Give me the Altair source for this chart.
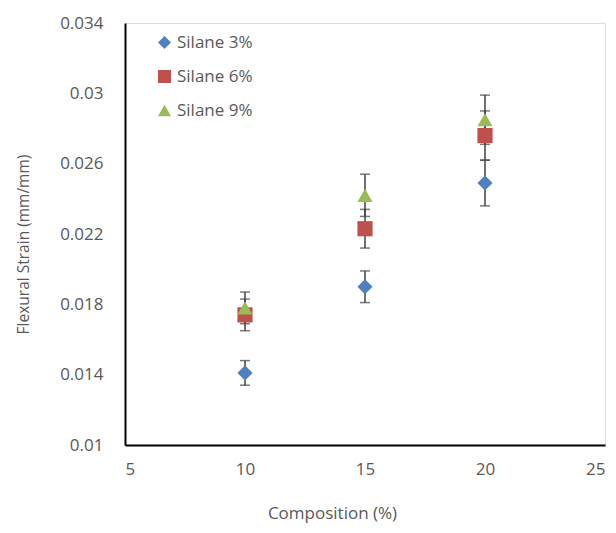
import altair as alt
import pandas as pd

composition = [10, 15, 20]
series_names = ["Silane 3%", "Silane 6%", "Silane 9%"]
silane3 = [0.0141, 0.0190, 0.0249]
silane3_err = [0.0007, 0.0009, 0.0013]
silane6 = [0.0174, 0.0223, 0.0276]
silane6_err = [0.0009, 0.0011, 0.0014]
silane9 = [0.0178, 0.0242, 0.0285]
silane9_err = [0.0009, 0.0012, 0.0014]
x_ticks = [5, 10, 15, 20, 25]
y_ticks = [0.01, 0.014, 0.018, 0.022, 0.026, 0.03, 0.034]
colors = ["#4F81BD", "#C0504D", "#9BBB59"]
shapes = ["diamond", "square", "triangle-up"]

rows = []
for k, (name, vals, errs) in enumerate(zip(series_names,
                                            [silane3, silane6, silane9],
                                            [silane3_err, silane6_err, silane9_err])):
    for c, v, e in zip(composition, vals, errs):
        rows.append({"series": name, "composition": c, "strain": v,
                     "lo": v - e, "hi": v + e, "order": k})
df = pd.DataFrame(rows)

FONT = "Open Sans"
GREY = "#595959"

xscale = alt.Scale(domain=[5, 25], nice=False, zero=False)
yscale = alt.Scale(domain=[0.01, 0.034], nice=False, zero=False)

xaxis = alt.Axis(values=x_ticks, format="d", grid=False, ticks=False, tickSize=0,
                 labelFont=FONT, labelFontSize=17, labelColor=GREY, labelPadding=16,
                 domainColor="#000000", domainWidth=2,
                 title="Composition (%)", titleFont=FONT, titleFontSize=17,
                 titleFontWeight="normal", titleColor=GREY,
                 titleX=207, titleY=73, titleAlign="center", titleBaseline="alphabetic")
yaxis = alt.Axis(values=y_ticks, format=".3~f", grid=False, ticks=False, tickSize=0,
                 labelFont=FONT, labelFontSize=17, labelColor=GREY, labelPadding=22,
                 domainColor="#000000", domainWidth=2,
                 title="Flexural Strain (mm/mm)", titleFont=FONT, titleFontSize=15.5,
                 titleFontWeight="normal", titleColor=GREY, titleAngle=270,
                 titleX=-102, titleY=221, titleAlign="center", titleBaseline="middle")

base = alt.Chart(df)

rules = base.mark_rule(color="#404040", strokeWidth=1.5).encode(
    x=alt.X("composition:Q", scale=xscale, axis=xaxis),
    y=alt.Y("lo:Q", scale=yscale, axis=yaxis),
    y2="hi:Q",
)
caps_lo = base.mark_tick(color="#404040", orient="horizontal", size=10, thickness=1.5).encode(
    x=alt.X("composition:Q", scale=xscale),
    y=alt.Y("lo:Q", scale=yscale),
)
caps_hi = base.mark_tick(color="#404040", orient="horizontal", size=10, thickness=1.5).encode(
    x=alt.X("composition:Q", scale=xscale),
    y=alt.Y("hi:Q", scale=yscale),
)

legend = alt.Legend(title=None, orient="none", legendX=31, legendY=11, padding=0,
                    symbolSize=170, symbolStrokeWidth=0, labelFont=FONT,
                    labelFontSize=17, labelColor=GREY, labelOffset=4, rowPadding=16)

points = base.mark_point(filled=True, size=230, opacity=1, strokeWidth=0).encode(
    x=alt.X("composition:Q", scale=xscale),
    y=alt.Y("strain:Q", scale=yscale),
    color=alt.Color("series:N", scale=alt.Scale(domain=series_names, range=colors), legend=legend),
    shape=alt.Shape("series:N", scale=alt.Scale(domain=series_names, range=shapes), legend=legend),
    order=alt.Order("order:Q"),
)

chart = alt.layer(rules, caps_lo, caps_hi, points).properties(
    width=480, height=422,
    autosize=alt.AutoSizeParams(type="none"),
    padding={"left": 117, "top": 15, "right": 3, "bottom": 80},
).configure_view(stroke=None).configure(background="white")

chart.save("out.html", embed_options={"renderer": "svg", "actions": False})
